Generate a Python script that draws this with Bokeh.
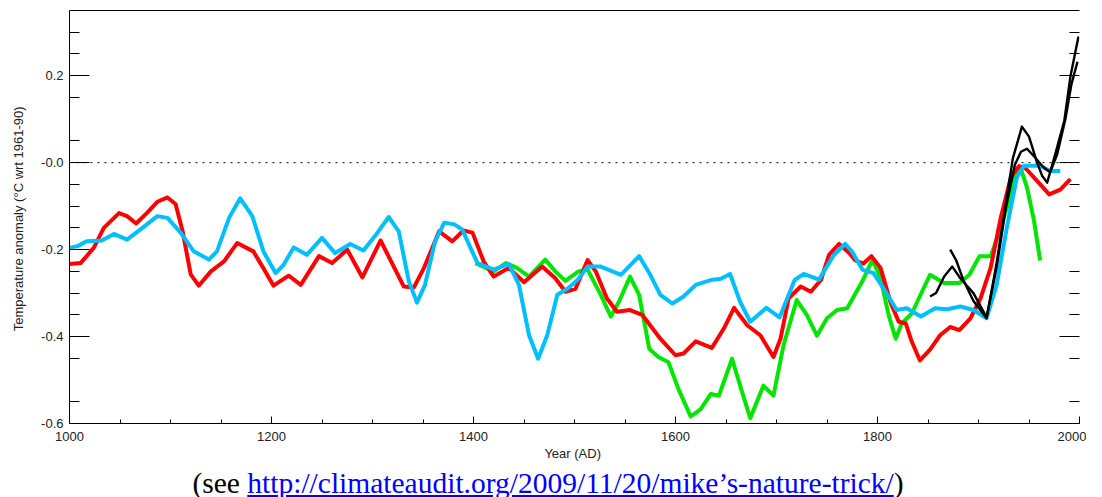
from bokeh.plotting import figure
from bokeh.models import (Range1d, FixedTicker, LinearAxis, Span, Div)
from bokeh.layouts import column
from bokeh.embed import file_html
from bokeh.resources import INLINE

# ---------------- data ----------------
red_years = [1000, 1011, 1024, 1034, 1049, 1057, 1066, 1077, 1087, 1097, 1105, 1112, 1120, 1128,
             1140, 1153, 1166, 1182, 1192, 1202, 1217, 1229, 1247, 1260, 1275, 1290, 1308, 1331,
             1341, 1351, 1366, 1379, 1390, 1399, 1410, 1420, 1435, 1450, 1468, 1481, 1491, 1501,
             1513, 1521, 1532, 1542, 1555, 1567, 1585, 1600, 1608, 1620, 1636, 1648, 1658, 1671,
             1684, 1697, 1704, 1712, 1724, 1734, 1744, 1752, 1762, 1772, 1778, 1786, 1794, 1803,
             1813, 1821, 1828, 1834, 1842, 1852, 1862, 1872, 1881, 1892, 1902, 1912, 1922, 1932,
             1940, 1947, 1958, 1970, 1981, 1991]
red_vals = [-0.233, -0.231, -0.196, -0.150, -0.116, -0.123, -0.140, -0.115, -0.090, -0.080, -0.095,
            -0.158, -0.257, -0.283, -0.250, -0.227, -0.185, -0.204, -0.243, -0.283, -0.260, -0.281,
            -0.215, -0.231, -0.200, -0.264, -0.179, -0.285, -0.287, -0.242, -0.158, -0.181, -0.156,
            -0.161, -0.227, -0.262, -0.242, -0.275, -0.239, -0.266, -0.297, -0.290, -0.224, -0.250,
            -0.312, -0.343, -0.339, -0.350, -0.405, -0.443, -0.439, -0.411, -0.426, -0.381, -0.334,
            -0.374, -0.397, -0.447, -0.405, -0.312, -0.285, -0.297, -0.270, -0.212, -0.187, -0.208,
            -0.225, -0.232, -0.215, -0.242, -0.322, -0.366, -0.370, -0.412, -0.455, -0.430, -0.397,
            -0.378, -0.385, -0.358, -0.312, -0.242, -0.127, -0.034, -0.008, -0.014, -0.042, -0.073,
            -0.062, -0.038]

blue_years = [1000, 1008, 1017, 1032, 1044, 1057, 1070, 1087, 1097, 1110, 1123, 1138, 1146, 1158,
              1169, 1181, 1192, 1204, 1212, 1222, 1235, 1250, 1263, 1278, 1291, 1305, 1316, 1326,
              1336, 1344, 1352, 1362, 1371, 1381, 1389, 1397, 1404, 1420, 1435, 1445, 1455, 1464,
              1473, 1483, 1493, 1503, 1513, 1526, 1546, 1564, 1575, 1585, 1597, 1608, 1620, 1635,
              1645, 1654, 1664, 1674, 1690, 1703, 1718, 1727, 1742, 1757, 1768, 1775, 1785, 1796,
              1806, 1819, 1829, 1843, 1857, 1869, 1882, 1895, 1908, 1918, 1928, 1938, 1945, 1961,
              1971, 1981]
blue_vals = [-0.196, -0.192, -0.181, -0.179, -0.164, -0.177, -0.154, -0.123, -0.127, -0.161, -0.204,
             -0.223, -0.204, -0.127, -0.082, -0.123, -0.204, -0.254, -0.235, -0.195, -0.212, -0.173,
             -0.208, -0.187, -0.202, -0.161, -0.125, -0.158, -0.273, -0.322, -0.281, -0.181, -0.138,
             -0.142, -0.154, -0.196, -0.231, -0.246, -0.233, -0.281, -0.397, -0.451, -0.397, -0.304,
             -0.290, -0.270, -0.239, -0.239, -0.258, -0.215, -0.258, -0.304, -0.324, -0.308, -0.281,
             -0.270, -0.267, -0.256, -0.320, -0.366, -0.334, -0.356, -0.270, -0.256, -0.269, -0.212,
             -0.187, -0.205, -0.246, -0.254, -0.289, -0.339, -0.335, -0.354, -0.335, -0.337, -0.331,
             -0.339, -0.358, -0.281, -0.150, -0.034, -0.007, -0.007, -0.019, -0.019]

green_years = [1402, 1420, 1432, 1443, 1455, 1471, 1481, 1491, 1504, 1513, 1526, 1536, 1544, 1555,
               1564, 1574, 1583, 1593, 1603, 1615, 1625, 1635, 1643, 1656, 1664, 1674, 1687, 1697,
               1707, 1720, 1730, 1740, 1750, 1760, 1770, 1785, 1795, 1803, 1811, 1818, 1824, 1834,
               1844, 1852, 1866, 1881, 1891, 1901, 1912, 1920, 1928, 1937, 1942, 1948, 1955, 1961]
green_vals = [-0.231, -0.250, -0.231, -0.242, -0.262, -0.223, -0.250, -0.272, -0.250, -0.246, -0.304,
              -0.354, -0.320, -0.262, -0.304, -0.428, -0.447, -0.459, -0.521, -0.584, -0.567, -0.532,
              -0.536, -0.451, -0.513, -0.588, -0.513, -0.536, -0.420, -0.316, -0.350, -0.398, -0.358,
              -0.339, -0.335, -0.273, -0.223, -0.266, -0.350, -0.405, -0.370, -0.347, -0.297, -0.258,
              -0.277, -0.277, -0.258, -0.215, -0.215, -0.165, -0.104, -0.026, -0.015, -0.057, -0.134,
              -0.225]

black1_years = [1872, 1878, 1885, 1895, 1908, 1918, 1927, 1934, 1943, 1950, 1958, 1963, 1968, 1976,
                1985, 1991, 1999]
black1_vals = [-0.200, -0.225, -0.270, -0.318, -0.358, -0.230, -0.095, 0.010, 0.083, 0.060, 0.000,
               -0.030, -0.046, 0.020, 0.097, 0.198, 0.290]

black2_years = [1852, 1858, 1866, 1874, 1882, 1895, 1908, 1918, 1927, 1936, 1942, 1948, 1956, 1964,
                1971, 1978, 1986, 1992, 1998]
black2_vals = [-0.308, -0.300, -0.262, -0.239, -0.266, -0.300, -0.356, -0.240, -0.105, -0.005,
               0.025, 0.032, 0.012, -0.010, -0.022, 0.020, 0.100, 0.180, 0.232]

x_major = [1000, 1200, 1400, 1600, 1800, 2000]
x_minor = [1050, 1100, 1150, 1250, 1300, 1350, 1450, 1500, 1550, 1650, 1700, 1750, 1850, 1900, 1950]
y_major_left = [0.2, 0.0, -0.2, -0.4, -0.6]
y_major_right = [0.2, 0.0, -0.4, -0.6]
y_minor = [0.3, 0.25, 0.15, 0.05, -0.05, -0.1, -0.15, -0.25, -0.3, -0.35, -0.45, -0.55]
y_labels = {0.2: "0.2", 0.0: "-0.0", -0.2: "-0.2", -0.4: "-0.4", -0.6: "-0.6"}

FONT = "Liberation Sans"

p = figure(width=1086, height=468, output_backend="svg", toolbar_location=None,
           x_range=Range1d(1000, 2000), y_range=Range1d(-0.6, 0.35),
           min_border_left=69, min_border_right=7, min_border_top=10, min_border_bottom=45,
           x_axis_location=None, y_axis_location=None)
p.outline_line_color = None
p.grid.visible = False
p.background_fill_color = "white"

# bottom axis
xb = LinearAxis(ticker=FixedTicker(ticks=x_major, minor_ticks=x_minor),
                axis_label="Year  (AD)")
xb.major_tick_in = 7
xb.major_tick_out = 0
xb.minor_tick_in = 4
xb.minor_tick_out = 0
xb.major_label_standoff = 8
xb.axis_label_standoff = 2
xb.major_label_text_font = FONT
xb.major_label_text_font_size = "13px"
xb.major_label_text_color = "#222222"
xb.axis_label_text_font = FONT
xb.axis_label_text_font_size = "13px"
xb.axis_label_text_font_style = "normal"
xb.axis_label_text_color = "#222222"
xb.axis_line_color = "black"
xb.major_tick_line_color = "black"
xb.minor_tick_line_color = "black"
p.add_layout(xb, "below")

# left axis
yl = LinearAxis(ticker=FixedTicker(ticks=y_major_left, minor_ticks=y_minor),
                axis_label="Temperature anomaly  (\u00b0C wrt 1961-90)")
yl.major_label_overrides = y_labels
yl.major_tick_in = 20
yl.major_tick_out = 0
yl.minor_tick_in = 10
yl.minor_tick_out = 0
yl.major_label_standoff = 6
yl.axis_label_standoff = 12
yl.major_label_text_font = FONT
yl.major_label_text_font_size = "13px"
yl.major_label_text_color = "#222222"
yl.axis_label_text_font = FONT
yl.axis_label_text_font_size = "13px"
yl.axis_label_text_font_style = "normal"
yl.axis_label_text_color = "#222222"
p.add_layout(yl, "left")

# right axis: ticks only, labels not drawn
yr = LinearAxis(ticker=FixedTicker(ticks=y_major_right, minor_ticks=y_minor))
yr.major_label_overrides = {t: "" for t in y_major_right}
yr.major_tick_in = 20
yr.major_tick_out = 0
yr.minor_tick_in = 10
yr.minor_tick_out = 0
yr.major_label_text_color = None
yr.major_label_standoff = 0
yr.axis_line_color = None
p.add_layout(yr, "right")

# top: frame line only
xt = LinearAxis(ticker=FixedTicker(ticks=[], minor_ticks=[]))
xt.major_tick_in = 0
xt.major_tick_out = 0
xt.minor_tick_in = 0
xt.minor_tick_out = 0
xt.major_label_text_color = None
xt.major_label_standoff = 0
p.add_layout(xt, "above")

# dotted zero line
p.add_layout(Span(location=0, dimension="width", line_color="black",
                  line_dash="2 5", line_width=1))

p.line(green_years, green_vals, line_color="#00E600", line_width=4, line_join="round")
p.line(red_years, red_vals, line_color="#FF0000", line_width=4, line_join="round")
p.line(blue_years, blue_vals, line_color="#00BFFF", line_width=4, line_join="round")
p.line(black2_years, black2_vals, line_color="black", line_width=2.4, line_join="round")
p.line(black1_years, black1_vals, line_color="black", line_width=2.4, line_join="round")

url = "http://climateaudit.org/2009/11/20/mike\u2019s-nature-trick/"
caption = Div(
    text='(see <a href="%s" style="color:#0000FF;text-decoration:underline">%s</a>)' % (url, url),
    width=1086, height=26,
    styles={"text-align": "center", "font-family": "'Liberation Serif', 'Times New Roman', serif",
            "font-size": "29.5px", "color": "black", "line-height": "20px"})

layout = column(p, caption, spacing=0)

with open("out.html", "w", encoding="utf-8") as f:
    f.write(file_html(layout, INLINE))
